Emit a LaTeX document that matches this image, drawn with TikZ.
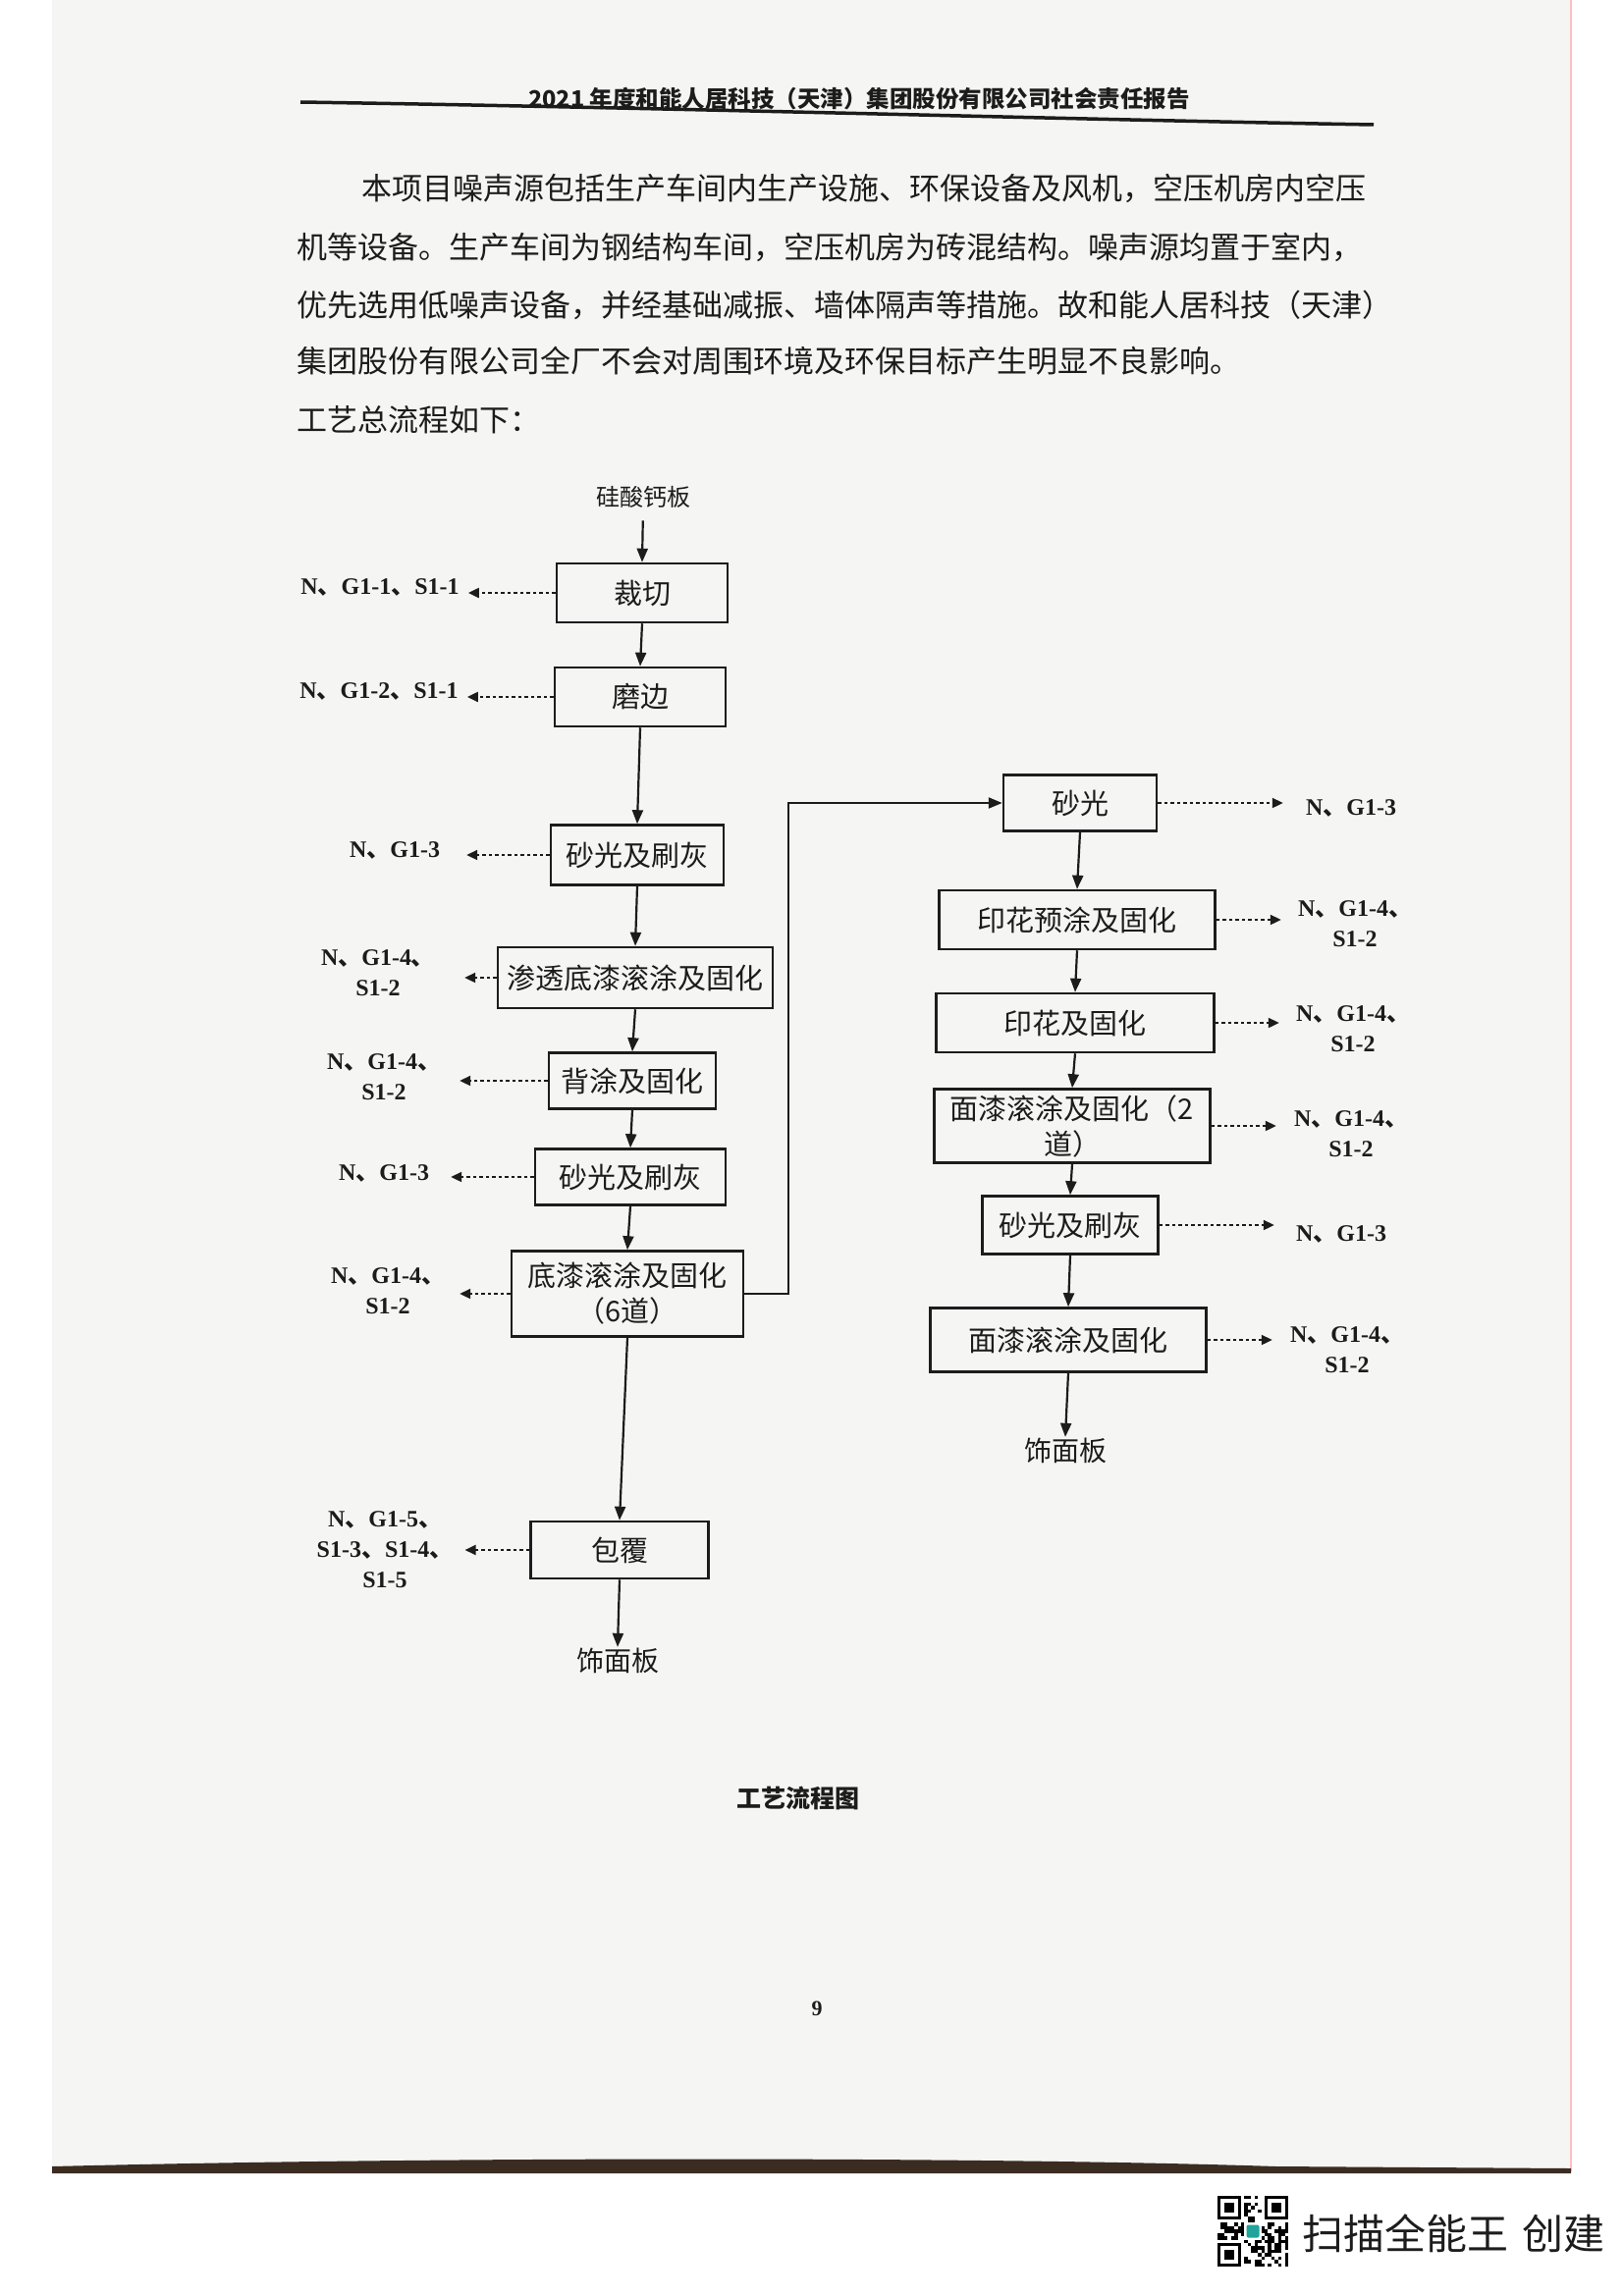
\documentclass[tikz,border=0pt]{standalone}
\usepackage{fontspec}
\setmainfont{Liberation Serif}
\newfontfamily\cjk{Noto Sans CJK SC}
\usepackage{tikz}
\usetikzlibrary{arrows.meta}
\usepackage{xcolor}
\XeTeXlinebreaklocale "zh"
\XeTeXlinebreakskip = 0pt plus 2pt minus 1.2pt
\definecolor{paper}{HTML}{F5F5F3}
\definecolor{ink}{HTML}{1C1C1C}
\definecolor{scanedge}{HTML}{3B2C22}
\definecolor{csgreen}{HTML}{1FA39A}
\newcommand{\dun}{{\cjk 、}}
\tikzset{%
	process box/.style={
		draw=ink,
		line width=2.5pt,
		inner sep=0pt,
		align=center,
		text=ink,
		font=\cjk\fontsize{29pt}{36pt}\selectfont
	},
	flow line/.style={
		draw=ink,
		line width=2.2pt,
		-{Triangle[length=14pt,width=11pt]}
	},
	emission/.style={
		draw=ink,
		line width=2pt,
		dash pattern=on 3.5pt off 3pt,
		-{Triangle[length=11pt,width=10pt]}
	},
	emission tag/.style={
		align=center,
		inner xsep=2pt,
		inner ysep=0pt,
		text=ink,
		font=\bfseries\fontsize{24pt}{31pt}\selectfont
	},
	page text/.style={
		inner sep=0pt,
		text=ink,
		font=\cjk\fontsize{31pt}{31pt}\selectfont
	},
}

\begin{document}
\begin{tikzpicture}[x=1pt, y=-1pt]
	% Page and scan margins
	\fill[white] (0,0) rectangle (1653,2339);
	\fill[paper] (53,0) rectangle (1600,2212);
	\useasboundingbox (0,0) rectangle (1653,2339);
	\draw[red!25, line width=1.5pt] (1600,0) -- (1600,2212);
	\fill[scanedge] (53,2207) .. controls (450,2197) and (1000,2197) .. (1300,2207)
		-- (1600,2209) -- (1600,2214) -- (53,2214) -- cycle;
	
	% Header and text above the chart
	\node[page text, font=\cjk\bfseries\fontsize{23.5pt}{24pt}\selectfont] (header) at (875,101)
		{2021 年度和能人居科技（天津）集团股份有限公司社会责任报告};
	\draw[ink, line width=3.5pt] (306,104) .. controls (700,110) and (1100,122) .. (1399,127);
	\node[page text, anchor=west] (line1) at (368,192) {\makebox[1027pt][s]{本项目噪声源包括生产车间内生产设施、环保设备及风机，空压机房内空压}};
	\node[page text, anchor=west] (line2) at (302,252) {\makebox[1090pt][s]{机等设备。生产车间为钢结构车间，空压机房为砖混结构。噪声源均置于室内，}};
	\node[page text, anchor=west] (line3) at (302,311) {\makebox[1090pt][s]{优先选用低噪声设备，并经基础减振、墙体隔声等措施。故和能人居科技（天津）}};
	\node[page text, anchor=west] (line4) at (302,368) {集团股份有限公司全厂不会对周围环境及环保目标产生明显不良影响。};
	\node[page text, anchor=west] (line5) at (302,428) {工艺总流程如下：};
	
	% Left column of process steps
	\node[process box, draw=none, font=\cjk\fontsize{24pt}{24pt}\selectfont] (board) at (655,506) {硅酸钙板};
	\node[process box, minimum width=174pt, minimum height=60pt] (cut) at (654,604) {裁切};
	\node[process box, minimum width=174pt, minimum height=60pt] (edge) at (652,710) {磨边};
	\node[process box, minimum width=176pt, minimum height=61pt] (sandA) at (649,871) {砂光及刷灰};
	\node[process box, minimum width=280pt, minimum height=62pt] (prime) at (647,996) {渗透底漆滚涂及固化};
	\node[process box, minimum width=170pt, minimum height=57pt] (back) at (644,1101) {背涂及固化};
	\node[process box, minimum width=194pt, minimum height=57pt] (sandB) at (642,1199) {砂光及刷灰};
	\node[process box, minimum width=236pt, minimum height=87pt] (base) at (639,1318) {底漆滚涂及固化\\（6道）};
	\node[process box, minimum width=181pt, minimum height=58pt] (wrap) at (631,1579) {包覆};
	\node[process box, draw=none, font=\cjk\fontsize{28pt}{28pt}\selectfont] (panelL) at (629,1692) {饰面板};
	
	% Right column of process steps
	\node[process box, minimum width=156pt, minimum height=57pt] (sandC) at (1100,818) {砂光};
	\node[process box, minimum width=281pt, minimum height=60pt] (prepaint) at (1097,937) {印花预涂及固化};
	\node[process box, minimum width=283pt, minimum height=60pt] (print) at (1095,1042) {印花及固化};
	\node[process box, minimum width=281pt, minimum height=75pt] (topTwo) at (1092,1147) {面漆滚涂及固化（2\\道）};
	\node[process box, minimum width=179pt, minimum height=59pt] (sandD) at (1090,1248) {砂光及刷灰};
	\node[process box, minimum width=281pt, minimum height=65pt] (topcoat) at (1088,1365) {面漆滚涂及固化};
	\node[process box, draw=none, font=\cjk\fontsize{28pt}{28pt}\selectfont] (panelR) at (1085,1478) {饰面板};
	
	% Emission labels
	\node[emission tag] (tagA) at (387,598) {N\dun G1-1\dun S1-1};
	\node[emission tag] (tagB) at (386,704) {N\dun G1-2\dun S1-1};
	\node[emission tag] (tagC) at (402,866) {N\dun G1-3};
	\node[emission tag] (tagD) at (385,991) {N\dun G1-4\dun\\S1-2};
	\node[emission tag] (tagE) at (391,1097) {N\dun G1-4\dun\\S1-2};
	\node[emission tag] (tagF) at (391,1195) {N\dun G1-3};
	\node[emission tag] (tagG) at (395,1315) {N\dun G1-4\dun\\S1-2};
	\node[emission tag] (tagH) at (392,1579) {N\dun G1-5\dun\\S1-3\dun S1-4\dun\\S1-5};
	\node[emission tag] (tagI) at (1376,823) {N\dun G1-3};
	\node[emission tag] (tagJ) at (1380,941) {N\dun G1-4\dun\\S1-2};
	\node[emission tag] (tagK) at (1378,1048) {N\dun G1-4\dun\\S1-2};
	\node[emission tag] (tagL) at (1376,1155) {N\dun G1-4\dun\\S1-2};
	\node[emission tag] (tagM) at (1366,1257) {N\dun G1-3};
	\node[emission tag] (tagN) at (1372,1375) {N\dun G1-4\dun\\S1-2};
	
	% Main flow
	\draw[flow line, shorten <=12pt] (board.south) -- (cut.north);
	\draw[flow line] (cut.south) -- (edge.north);
	\draw[flow line] (edge.south) -- (sandA.north);
	\draw[flow line] (sandA.south) -- (prime.north);
	\draw[flow line] (prime.south) -- (back.north);
	\draw[flow line] (back.south) -- (sandB.north);
	\draw[flow line] (sandB.south) -- (base.north);
	\draw[flow line] (base.south) -- (wrap.north);
	\draw[flow line] (wrap.south) -- (panelL.north);
	\draw[flow line] (base.east) -- ++(45,0) |- (sandC.west);
	\draw[flow line] (sandC.south) -- (prepaint.north);
	\draw[flow line] (prepaint.south) -- (print.north);
	\draw[flow line] (print.south) -- (topTwo.north);
	\draw[flow line] (topTwo.south) -- (sandD.north);
	\draw[flow line] (sandD.south) -- (topcoat.north);
	\draw[flow line] (topcoat.south) -- (panelR.north);
	
	% Emissions to the left
	\draw[emission, shorten >=7pt] (cut.west) -- (cut.west -| tagA.east);
	\draw[emission, shorten >=7pt] (edge.west) -- (edge.west -| tagB.east);
	\draw[emission, shorten >=25pt] (sandA.west) -- (sandA.west -| tagC.east);
	\draw[emission, shorten >=28pt] (prime.west) -- (prime.west -| tagD.east);
	\draw[emission, shorten >=17pt] (back.west) -- (back.west -| tagE.east);
	\draw[emission, shorten >=20pt] (sandB.west) -- (sandB.west -| tagF.east);
	\draw[emission, shorten >=13pt] (base.west) -- (base.west -| tagG.east);
	\draw[emission, shorten >=10pt] (wrap.west) -- (wrap.west -| tagH.east);
	
	% Emissions to the right
	\draw[emission, shorten >=21pt] (sandC.east) -- (sandC.east -| tagI.west);
	\draw[emission, shorten >=15pt] (prepaint.east) -- (prepaint.east -| tagJ.west);
	\draw[emission, shorten >=15pt] (print.east) -- (print.east -| tagK.west);
	\draw[emission, shorten >=16pt] (topTwo.east) -- (topTwo.east -| tagL.west);
	\draw[emission, shorten >=20pt] (sandD.east) -- (sandD.east -| tagM.west);
	\draw[emission, shorten >=16pt] (topcoat.east) -- (topcoat.east -| tagN.west);
	
	% Caption and page number
	\node[page text, font=\cjk\bfseries\fontsize{25pt}{25pt}\selectfont] (caption) at (813,1832) {工艺流程图};
	\node[page text, font=\bfseries\fontsize{22pt}{22pt}\selectfont] (pageno) at (832,2046) {9};
	
	% Scanner mark
	\begin{scope}[shift={(1240,2237)}]
		\def\qm{3.43}
		\pgfmathsetseed{42}
		\foreach \i in {0,...,20} {
			\foreach \j in {0,...,20} {
				\pgfmathtruncatemacro{\bit}{rnd<0.5}
				\ifnum\bit=1 \fill[black] (\i*\qm,\j*\qm) rectangle ++(\qm,\qm); \fi
			}
		}
		\foreach \fx/\fy in {0/0, 13/0, 0/13} {
			\fill[white] (\fx*\qm,\fy*\qm) rectangle ++(8*\qm,8*\qm);
		}
		\foreach \fx/\fy in {0/0, 14/0, 0/14} {
			\fill[black] (\fx*\qm,\fy*\qm) rectangle ++(7*\qm,7*\qm);
			\fill[white] (\fx*\qm+\qm,\fy*\qm+\qm) rectangle ++(5*\qm,5*\qm);
			\fill[black] (\fx*\qm+2*\qm,\fy*\qm+2*\qm) rectangle ++(3*\qm,3*\qm);
		}
		\fill[white] (8*\qm,8*\qm) rectangle ++(5*\qm,5*\qm);
		\fill[csgreen, rounded corners=2pt] (8.6*\qm,8.6*\qm) rectangle ++(3.8*\qm,3.8*\qm);
	\end{scope}
	\node[page text, anchor=west, font=\cjk\fontsize{42pt}{42pt}\selectfont] (scanner) at (1326,2275) {扫描全能王\hspace{0.35em}创建};
\end{tikzpicture}
\end{document}
